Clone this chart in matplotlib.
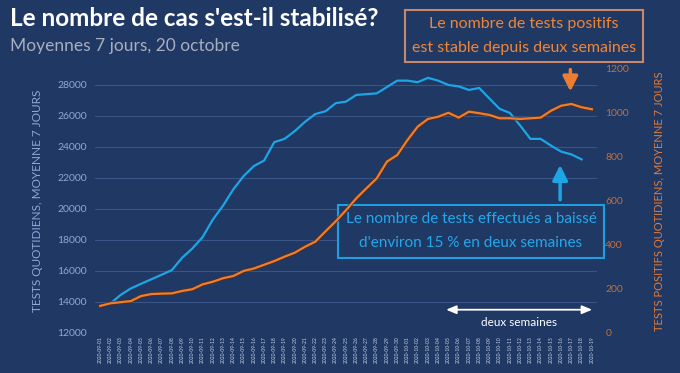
import numpy as np
import pandas as pd
import matplotlib
matplotlib.use("Agg")
import matplotlib.pyplot as plt
import matplotlib.patheffects as pe

plt.rcParams['font.family'] = ['Lato', 'DejaVu Sans']

# Dates (axe des x)
dates = pd.date_range("2020-09-01", "2020-10-19").strftime("%Y-%m-%d").tolist()

# Tests quotidiens, moyenne 7 jours (du 2020-09-02 au 2020-10-18)
tests = [13900, 14450, 14870, 15170, 15460, 15750, 16050, 16840, 17440, 18170,
         19300, 20200, 21250, 22100, 22750, 23100, 24290, 24500, 25000, 25600,
         26100, 26280, 26800, 26900, 27330, 27380, 27430, 27840, 28250, 28250,
         28150, 28430, 28250, 27970, 27880, 27650, 27780, 27100, 26430, 26170,
         25360, 24500, 24500, 24070, 23680, 23500, 23180]

# Tests positifs quotidiens, moyenne 7 jours (du 2020-09-01 au 2020-10-19)
positifs = [123, 135, 140, 145, 168, 177, 179, 180, 191, 199,
            221, 233, 249, 259, 282, 293, 310, 327, 347, 365,
            392, 415, 462, 508, 558, 612, 658, 703, 779, 809,
            877, 938, 973, 983, 1001, 979, 1006, 999, 991, 976,
            976, 973, 976, 979, 1010, 1033, 1041, 1026, 1017]

ticks_tests = [12000, 14000, 16000, 18000, 20000, 22000, 24000, 26000, 28000]
ticks_positifs = [0, 200, 400, 600, 800, 1000, 1200]

fond = "#203864"
bleu = "#1DA5E6"
orange = "#ED7D31"

fig = plt.figure(figsize=(6.8, 3.73), dpi=100, facecolor=fond)
ax = fig.add_axes([95/680, 1 - 333/373, 502/680, 264/373], facecolor=fond)
ax2 = ax.twinx()

x_tests = np.arange(1, 1 + len(tests))
x_pos = np.arange(len(positifs))

ax.plot(x_tests, tests, color=bleu, lw=1.6, zorder=3)
ax2.plot(x_pos, positifs, color=orange, lw=1.6, zorder=3,
         path_effects=[pe.Stroke(linewidth=2.6, foreground="#5A2E14"), pe.Normal()])

ax.set_xlim(-0.5, len(dates) - 0.5)
ax.set_ylim(12000, 29000)
ax2.set_ylim(0, 1200)

ax.set_yticks(ticks_tests)
ax.set_yticklabels([str(t) for t in ticks_tests])
ax2.set_yticks(ticks_positifs)
ax2.set_yticklabels([str(t) for t in ticks_positifs])
ax.set_xticks(range(len(dates)))
ax.set_xticklabels(dates, rotation=90, fontsize=3.6, color="#C9D3E8")

ax.grid(axis='y', color="#3A5488", lw=0.8)
ax.set_axisbelow(True)
for a in (ax, ax2):
    for s in a.spines.values():
        s.set_visible(False)
ax.tick_params(axis='both', length=0)
ax2.tick_params(axis='both', length=0)
ax.tick_params(axis='y', colors="#8FA8D8", labelsize=7.5, pad=6)
ax2.tick_params(axis='y', colors="#C0703A", labelsize=7.5, pad=6)
ax.tick_params(axis='x', pad=2)

ax.set_ylabel("TESTS QUOTIDIENS, MOYENNE 7 JOURS", color="#8FA8D8", fontsize=8.5, labelpad=10)
ax2.set_ylabel("TESTS POSITIFS QUOTIDIENS, MOYENNE 7 JOURS", color="#E07A38", fontsize=8,
               labelpad=18)

# Titre
fig.text(10/680, 1 - 18/373, "Le nombre de cas s'est-il stabilisé?", color="white",
         fontsize=17.5, fontweight="bold", va="center", ha="left")
fig.text(10/680, 1 - 46/373, "Moyennes 7 jours, 20 octobre", color="#A8AEBE",
         fontsize=12.5, va="center", ha="left")

# Boîte orange
fig.text(524/680, 1 - 36/373, "Le nombre de tests positifs\nest stable depuis deux semaines",
         color="#F08535", fontsize=11.5, ha="center", va="center", linespacing=1.9,
         bbox=dict(boxstyle="square,pad=0.45", fc=fond, ec="#C8866A", lw=1.5))
ax2.annotate("", xy=(45.9, 1085), xytext=(45.9, 1210), xycoords='data',
             textcoords='data', annotation_clip=False,
             arrowprops=dict(arrowstyle="-|>,head_width=0.45,head_length=0.9",
                             color=orange, lw=2.5))

# Boîte bleue
ax.annotate("", xy=(44.9, 23000), xytext=(44.9, 20400),
            arrowprops=dict(arrowstyle="-|>,head_width=0.45,head_length=0.9",
                            color=bleu, lw=2.5), zorder=4)
ax.text(36.2, 18550, "Le nombre de tests effectués a baissé\nd'environ 15 % en deux semaines",
        color="#22A8EA", fontsize=11, ha="center", va="center", linespacing=1.9, zorder=5,
        bbox=dict(boxstyle="square,pad=0.5", fc=fond, ec="#1E9FE0", lw=1.5))

# Deux semaines
ax.annotate("", xy=(33.5, 13500), xytext=(48.3, 13500),
            arrowprops=dict(arrowstyle="<|-|>,head_width=0.25,head_length=0.6",
                            color="white", lw=1.3), annotation_clip=False)
ax.text(40.9, 12700, "deux semaines", color="white", fontsize=8.5, ha="center", va="center")

fig.savefig("out.png", dpi=100, facecolor=fond)
